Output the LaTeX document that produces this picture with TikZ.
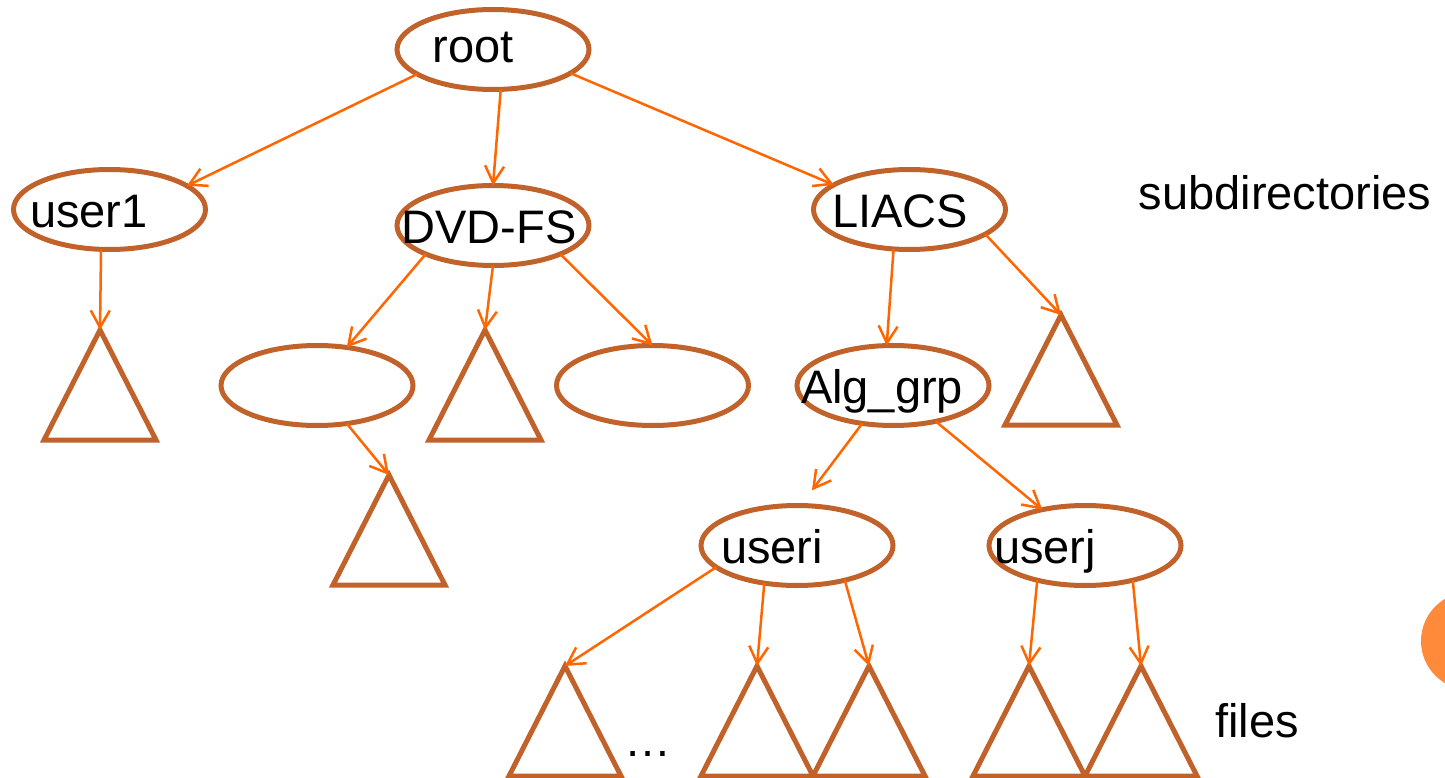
\documentclass[tikz,border=0pt]{standalone}
\usepackage{fontspec}
\setmainfont{Liberation Sans}
\usetikzlibrary{shapes.geometric,arrows.meta}

\definecolor{rimbrown}{RGB}{192,98,42}
\definecolor{linkorange}{RGB}{255,102,0}
\definecolor{dotorange}{RGB}{255,139,58}

\tikzset{
  dirnode/.style={ellipse, draw=rimbrown, line width=5pt, minimum width=192pt,
    minimum height=80pt, inner sep=0pt, outer sep=0pt},
  treetri/.style={draw=rimbrown, line width=5pt},
  link/.style={draw=linkorange, line width=2.5pt,
    -{Straight Barb[length=17pt,width=19pt]}},
  lbl/.style={anchor=base, inner sep=0pt, outer sep=0pt,
    font=\fontsize{47pt}{56pt}\selectfont}
}

\begin{document}
\begin{tikzpicture}[x=1pt,y=-1pt]
\useasboundingbox (0,0) rectangle (1445,778);

% page marker at the right edge
\fill[dotorange] (1470,641) circle (49);

% directory ellipses
\node[dirnode] (root)   at (493,49.5)  {};
\node[dirnode] (user1)  at (109.5,209.5) {};
\node[dirnode] (dvdfs)  at (493,225.5) {};
\node[dirnode] (liacs)  at (909.5,209.5) {};
\node[dirnode] (dirl)   at (317,385.5) {};
\node[dirnode] (dirr)   at (652.5,385.5) {};
\node[dirnode] (alggrp) at (893,385.5) {};
\node[dirnode] (useri)  at (797,545.5) {};
\node[dirnode] (userj)  at (1085,545.5) {};

% labels
\node[lbl] (troot)  at (473,63)  {root};
\node[lbl] (tuser1) at (89,227)  {user1};
\node[lbl] (tdvd)   at (489,243) {DVD-FS};
\node[lbl] (tliacs) at (900,227) {LIACS};
\node[lbl] (talg)   at (882,403) {Alg\_grp};
\node[lbl] (tuseri) at (772,563) {useri};
\node[lbl] (tuserj) at (1045,563) {userj};
\node[lbl] (tsub)   at (1285,210) {subdirectories};
\node[lbl] (tfiles) at (1257,737) {files};
\node[lbl] (tdots)  at (648,756) {…};

% subtrees (apex coordinates)
\coordinate (ta)  at (100,330);
\coordinate (tb)  at (485,330);
\coordinate (tc)  at (389,475);
\coordinate (td)  at (1061,315);
\coordinate (te1) at (565,666);
\coordinate (te2) at (757,666);
\coordinate (te3) at (869,666);
\coordinate (tf1) at (1029,666);
\coordinate (tf2) at (1141,666);

\foreach \t in {ta,tb,tc,td,te1,te2,te3,tf1,tf2}
  \draw[treetri] (\t) -- ++(-56,110) -- ++(112,0) -- cycle;

% links
\draw[link] (root.198) -- (user1.17.6);
\draw[link] (root.281) -- (dvdfs.90);
\draw[link] (root.343) -- (liacs.162);
\draw[link] (user1.258) -- (ta);
\draw[link] (dvdfs.203.5) -- (dirl.52);
\draw[link] (dvdfs.270) -- (tb);
\draw[link] (dvdfs.337) -- (dirr.90);
\draw[link] (dirl.308) -- (tc);
\draw[link] (liacs.248) -- (alggrp.99);
\draw[link] (liacs.342) -- (td);
\draw[link, shorten >=19pt] (alggrp.231.5) -- (useri.85);
\draw[link] (alggrp.320) -- (userj.140);
\draw[link] (useri.195.5) -- (te1);
\draw[link] (useri.229.7) -- (te2);
\draw[link] (useri.324) -- (te3);
\draw[link] (userj.216) -- (tf1);
\draw[link] (userj.324) -- (tf2);
\end{tikzpicture}
\end{document}
